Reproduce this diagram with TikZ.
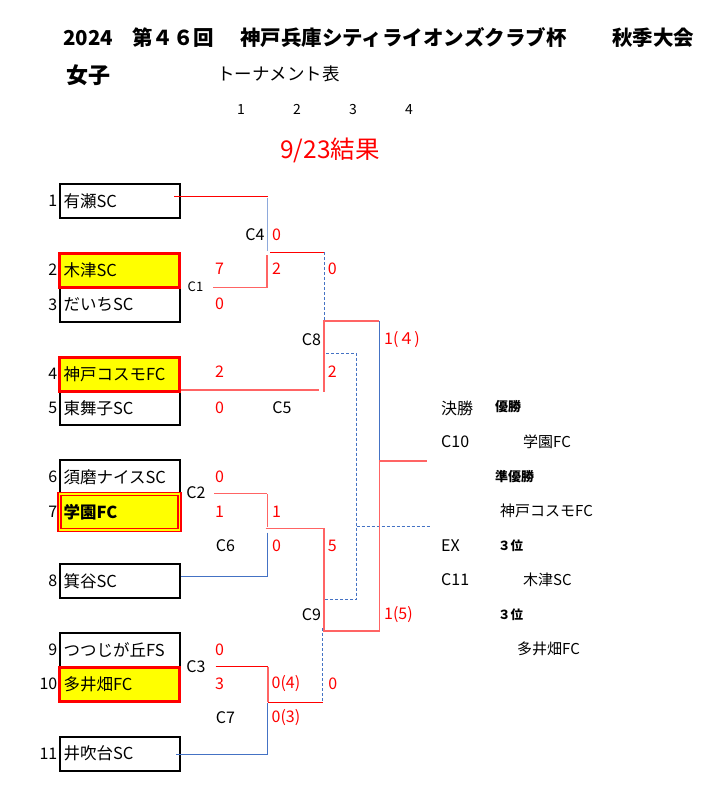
\documentclass[tikz,border=0pt]{standalone}
\usepackage{fontspec}
\setmainfont{Noto Sans CJK JP}
\definecolor{rr}{HTML}{FF0000}
\definecolor{rp}{HTML}{FF6464}
\definecolor{bb}{HTML}{4472C4}
\definecolor{bl}{HTML}{8EA9DB}
\definecolor{yy}{HTML}{FFFF00}
\begin{document}
\begin{tikzpicture}[x=1pt,y=-1pt,
  redthin/.style={draw=rr, line width=1pt},
  redthick/.style={draw=rp, line width=1.6pt},
  blueline/.style={draw=bb, line width=1pt},
  bluelite/.style={draw=bl, line width=1.4pt},
  bluedash/.style={draw=bb, line width=1pt, dash pattern=on 3pt off 2pt},
  tbox/.style={rectangle, draw=black, line width=2pt, minimum width=120pt, minimum height=34pt,
    text width=112pt, align=left, inner xsep=4pt, inner ysep=0pt, font=\fontsize{16.5}{18}\selectfont},
  wbox/.style={tbox, draw=rr, line width=3pt, fill=yy},
  num/.style={anchor=east, font=\fontsize{16}{18}\selectfont, inner sep=0pt},
  sc/.style={text=rr, font=\fontsize{16}{18}\selectfont, inner sep=0pt},
  scw/.style={sc, anchor=west},
  lbl/.style={font=\fontsize{16}{18}\selectfont, inner sep=0pt},
  rnd/.style={anchor=base, inner sep=0pt, font=\fontsize{14}{16}\selectfont},
  ttl/.style={anchor=west, inner sep=0pt, font=\bfseries\fontsize{20.5}{22}\selectfont},
  rlab/.style={anchor=west, inner sep=0pt, font=\fontsize{15}{17}\selectfont},
  rbold/.style={anchor=west, inner sep=0pt, font=\bfseries\fontsize{12.5}{14}\selectfont}
]
\useasboundingbox[fill=white] (0,0) rectangle (711,808);

% title
\node[ttl] (t1) at (63,38) {2024};
\node[ttl] (t2) at (132,38) {第４６回};
\node[ttl] (t3) at (240,38) {神戸兵庫シティライオンズクラブ杯};
\node[ttl] (t4) at (612,38) {秋季大会};
\node[anchor=west, inner sep=0pt, font=\bfseries\fontsize{22}{24}\selectfont] (t5) at (66,75) {女子};
\node[anchor=west, inner sep=0pt, font=\fontsize{17.5}{19}\selectfont] (t6) at (217,74) {トーナメント表};
\node[rnd] (r1) at (241,114) {1};
\node[rnd] (r2) at (297,114) {2};
\node[rnd] (r3) at (353,114) {3};
\node[rnd] (r4) at (409,114) {4};
\node[anchor=west, inner sep=0pt, text=rr, font=\fontsize{24.5}{26}\selectfont] (res) at (280,150) {9/23結果};

% team boxes (black first)
\node[tbox] (b1) at (119.5,201) {有瀬SC};
\node[tbox] (b3) at (119.5,305) {だいちSC};
\node[tbox] (b5) at (119.5,408) {東舞子SC};
\node[tbox] (b6) at (119.5,477) {須磨ナイスSC};
\node[tbox] (b8) at (119.5,581) {箕谷SC};
\node[tbox] (b9) at (119.5,650) {つつじが丘FS};
\node[tbox] (b11) at (119.5,753.5) {井吹台SC};
\node[wbox] (b2) at (119.5,270) {木津SC};
\node[wbox] (b4) at (119.5,374) {神戸コスモFC};
\node[wbox] (b10) at (119.5,684) {多井畑FC};
\node[tbox, draw=rr, line width=1.4pt, double=yy, double distance=1.6pt, fill=yy, minimum height=36pt, font=\bfseries\fontsize{16.5}{18}\selectfont] (b7) at (119.5,512) {学園FC};

% team numbers
\node[num] (n1) at (57.5,201) {1};
\node[num] (n2) at (57.5,270) {2};
\node[num] (n3) at (57.5,305) {3};
\node[num] (n4) at (57.5,374) {4};
\node[num] (n5) at (57.5,408) {5};
\node[num] (n6) at (57.5,477) {6};
\node[num] (n7) at (57.5,512) {7};
\node[num] (n8) at (57.5,581) {8};
\node[num] (n9) at (57.5,650) {9};
\node[num] (n10) at (57.5,684) {10};
\node[num] (n11) at (57.5,753.5) {11};

% bracket coordinates
\coordinate (p1a) at (174,196);   \coordinate (p1b) at (267.5,196);
\coordinate (c4t) at (267.5,198); \coordinate (c4m) at (267.5,251);
\coordinate (c4o) at (270,252.3); \coordinate (c4r) at (324,252.3);
\coordinate (c1t) at (267,255);   \coordinate (c1b) at (267,287.3);
\coordinate (c1l) at (212.7,287.3);
\coordinate (c8d) at (324,320);
\coordinate (c8tl) at (324,321); \coordinate (c8tr) at (379.3,321);
\coordinate (c8b) at (324,391.7);
\coordinate (k4e) at (319,390);
\coordinate (ex1) at (326,353.3); \coordinate (ex2) at (356.7,353.3);
\coordinate (ex3) at (356.7,599); \coordinate (ex4) at (324,599);
\coordinate (ex5) at (356.7,526); \coordinate (ex6) at (430,526);
\coordinate (f1) at (379.3,460.7); \coordinate (f2) at (426.7,460.7);
\coordinate (f3) at (379.3,631.7);
\coordinate (c9bl) at (324,630.7); \coordinate (c9br) at (379.3,630.7);
\coordinate (c9t) at (324,528.3); \coordinate (c6l) at (265.7,528.3);
\coordinate (c6t) at (267.3,494); \coordinate (c6m) at (267.3,526.7);
\coordinate (c2l) at (214,493.3); \coordinate (c2r) at (267.3,493.3);
\coordinate (c6bt) at (267.3,532.7); \coordinate (c6bb) at (267.3,576);
\coordinate (c3l) at (215.7,666.7); \coordinate (c3r) at (267.7,666.7);
\coordinate (c3b) at (267.7,701.7);
\coordinate (c7l) at (267.7,702); \coordinate (c7r) at (322.7,702);
\coordinate (c7bt) at (267.7,703); \coordinate (c7bb) at (267.7,754.3);
\coordinate (c7d) at (322.7,628);

% lines
\draw[redthin] (p1a) -- (p1b);
\draw[bluelite] (c4t) -- (c4m);
\draw[redthin] (c4o) -- (c4r);
\draw[redthick] (c1t) -- (c1b) -- (c1l);
\draw[bluedash] (c4r) -- (c8d);
\draw[redthick] (c8b) -- (c8tl) -- (c8tr);
\draw[redthick] (b4.east |- k4e) -- (k4e);
\draw[bluedash] (ex1) -- (ex2) -- (ex3) -- (ex4);
\draw[bluedash] (ex5) -- (ex6);
\draw[blueline] (c8tr) -- (f1);
\draw[redthick] (f2) -- (f1) -- (f3);
\draw[redthick] (c9t) -- (c9bl) -- (c9br);
\draw[redthick] (c6l) -- (c9t);
\draw[redthick] (c6t) -- (c6m);
\draw[redthin, draw=rp] (c2l) -- (c2r);
\draw[blueline] (c6bt) -- (c6bb) -- (b8.east |- c6bb);
\draw[redthin] (c3l) -- (c3r);
\draw[redthick] (c3r) -- (c3b);
\draw[redthin] (c7l) -- (c7r);
\draw[blueline] (c7bt) -- (c7bb) -- (176,754.3);
\draw[bluedash] (c7d) -- (c7r);

% match labels
\node[lbl] (m4) at (255,235) {C4};
\node[lbl, font=\fontsize{13}{15}\selectfont] (m1) at (195.5,287) {C1};
\node[lbl] (m8) at (311.5,340) {C8};
\node[lbl] (m5) at (282,408) {C5};
\node[lbl] (m2) at (196,493) {C2};
\node[lbl] (m6) at (225.5,546) {C6};
\node[lbl] (m9) at (311.5,615) {C9};
\node[lbl] (m3) at (196,667) {C3};
\node[lbl] (m7) at (225.5,718) {C7};

% scores
\node[sc] (s1) at (276.5,235) {0};
\node[sc] (s2) at (276.5,269) {2};
\node[sc] (s3) at (332.3,269) {0};
\node[sc] (s4) at (219.5,269) {7};
\node[sc] (s5) at (219.5,304) {0};
\node[sc] (s6) at (332.3,372) {2};
\node[scw] (s7) at (384,340) {1(４)};
\node[sc] (s8) at (219.5,372) {2};
\node[sc] (s9) at (219.5,408) {0};
\node[sc] (s10) at (219.5,477) {0};
\node[sc] (s11) at (219.5,512) {1};
\node[sc] (s12) at (276.5,512) {1};
\node[sc] (s13) at (276.5,546) {0};
\node[sc] (s14) at (332.3,546) {5};
\node[scw] (s15) at (384,615) {1(5)};
\node[sc] (s16) at (219.5,650) {0};
\node[sc] (s17) at (219.5,684) {3};
\node[scw] (s18) at (271.5,684) {0(4)};
\node[sc] (s19) at (332.7,684) {0};
\node[scw] (s20) at (271.5,718) {0(3)};

% right side
\node[rlab, font=\fontsize{16}{18}\selectfont] (q1) at (441,408) {決勝};
\node[rbold, font=\bfseries\fontsize{13}{15}\selectfont] (q2) at (495,407) {優勝};
\node[rlab, font=\fontsize{16}{18}\selectfont] (q3) at (441,442) {C10};
\node[rlab] (q4) at (523,442) {学園FC};
\node[rbold, font=\bfseries\fontsize{13}{15}\selectfont] (q5) at (495,477) {準優勝};
\node[rlab] (q6) at (500,511) {神戸コスモFC};
\node[rlab, font=\fontsize{16}{18}\selectfont] (q7) at (441,546) {EX};
\node[rbold] (q8) at (498,546) {３位};
\node[rlab, font=\fontsize{16}{18}\selectfont] (q9) at (441,580) {C11};
\node[rlab] (q10) at (523,580) {木津SC};
\node[rbold] (q11) at (498,615) {３位};
\node[rlab] (q12) at (517,649) {多井畑FC};
\end{tikzpicture}
\end{document}
